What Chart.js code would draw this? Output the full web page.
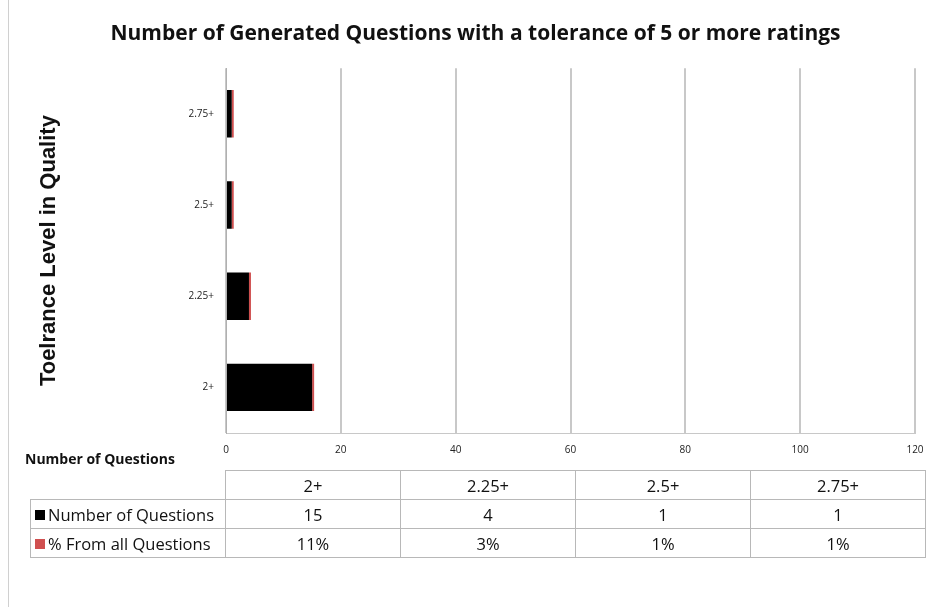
<!DOCTYPE html>
<html lang="en">
<head>
  <meta charset="UTF-8">
  <title>Generated Questions</title>
  <style>
    body {
      margin: 0;
      background-color: white;
      font-family: "Open Sans", sans-serif;
    }
    #wrap {
      position: relative;
      width: 935px;
      height: 607px;
      overflow: hidden;
    }
    #bordo {
      position: absolute;
      left: 8px;
      top: 0;
      width: 0;
      height: 607px;
      border-left: 1px solid #d0d0d0;
    }
    #etichettaX {
      position: absolute;
      left: 25px;
      top: 449px;
      font-weight: bold;
      font-size: 14px;
      color: #111;
    }
    #tabella {
      position: absolute;
      left: 30px;
      top: 470px;
      border-collapse: collapse;
      font-size: 16.5px;
      color: #111;
    }
    #tabella td {
      border: 1px solid #b8b8b8;
      height: 28px;
      padding: 0;
      text-align: center;
    }
    #tabella td.nome {
      text-align: left;
      padding-left: 4px;
      width: 190px;
      white-space: nowrap;
    }
    #tabella td.vuoto {
      border: none;
      border-right: 1px solid #b8b8b8;
      border-bottom: 1px solid #b8b8b8;
    }
    .chiave {
      display: inline-block;
      width: 10px;
      height: 10px;
      margin-right: 3px;
      vertical-align: 1px;
    }
  </style>
</head>
<body>
  <div id="wrap">
    <canvas id="chart" width="935" height="607"></canvas>
    <div id="bordo"></div>
    <div id="etichettaX">Number of Questions</div>
    <table id="tabella"></table>
  </div>

  <script src="https://cdn.jsdelivr.net/npm/chart.js"></script>
  <script>
    // dati
    const categorie = ["2+", "2.25+", "2.5+", "2.75+"];
    const numeroDomande = [15, 4, 1, 1];
    const percentuali = [11, 3, 1, 1];          // % from all questions
    const tickX = [0, 20, 40, 60, 80, 100, 120];

    const nomeSerie1 = "Number of Questions";
    const nomeSerie2 = "% From all Questions";
    const colore1 = "#000000";
    const colore2 = "#d05050";

    // tabella sotto il grafico
    const tabella = document.getElementById("tabella");
    let html = "<tr><td class='vuoto'></td>";
    categorie.forEach(c => { html += `<td style="width:174px">${c}</td>`; });
    html += "</tr><tr><td class='nome'><span class='chiave' style='background:" + colore1 + "'></span>" + nomeSerie1 + "</td>";
    numeroDomande.forEach(v => { html += `<td>${v}</td>`; });
    html += "</tr><tr><td class='nome'><span class='chiave' style='background:" + colore2 + "'></span>" + nomeSerie2 + "</td>";
    percentuali.forEach(v => { html += `<td>${v}%</td>`; });
    html += "</tr>";
    tabella.innerHTML = html;

    const ctx = document.getElementById("chart").getContext("2d");
    const chart = new Chart(ctx, {
      type: "bar",
      data: {
        labels: categorie,
        datasets: [
          {
            label: nomeSerie1,
            data: numeroDomande,
            backgroundColor: colore1
          },
          {
            label: nomeSerie2,
            data: percentuali.map(p => p / 100),
            backgroundColor: colore2,
            minBarLength: 2
          }
        ]
      },
      options: {
        indexAxis: "y",
        responsive: false,
        animation: false,
        layout: {
          padding: { left: 36, right: 20, top: 0, bottom: 0 }
        },
        plugins: {
          legend: { display: false },
          tooltip: { enabled: false },
          title: {
            display: true,
            text: "Number of Generated Questions with a tolerance of 5 or more ratings",
            color: "#111",
            font: { family: "Open Sans", size: 21, weight: "bold", lineHeight: 1.2 },
            padding: { top: 21, bottom: 22 }
          }
        },
        datasets: {
          bar: { categoryPercentage: 1, barPercentage: 0.52 }
        },
        scales: {
          x: {
            stacked: true,
            min: 0,
            max: 120,
            afterBuildTicks: s => { s.ticks = tickX.map(v => ({ value: v })); },
            afterFit: s => { s.height = 174; },
            ticks: {
              color: "#222",
              font: { family: "Open Sans", size: 10 },
              padding: 11
            },
            grid: {
              color: "#c8c8c8",
              lineWidth: 2,
              drawTicks: false
            },
            border: { color: "#c8c8c8", width: 1 }
          },
          y: {
            stacked: true,
            reverse: true,
            afterFit: s => { s.width = 190; },
            ticks: {
              color: "#222",
              font: { family: "Open Sans", size: 10 },
              padding: 12
            },
            grid: { display: false, drawTicks: false },
            border: { color: "#b0b0b0", width: 1 },
            title: {
              display: true,
              text: "Toelrance Level in Quality",
              color: "#111",
              font: { family: "Liberation Sans", size: 22, weight: "bold" },
              padding: 0
            }
          }
        }
      }
    });
  </script>
</body>
</html>
